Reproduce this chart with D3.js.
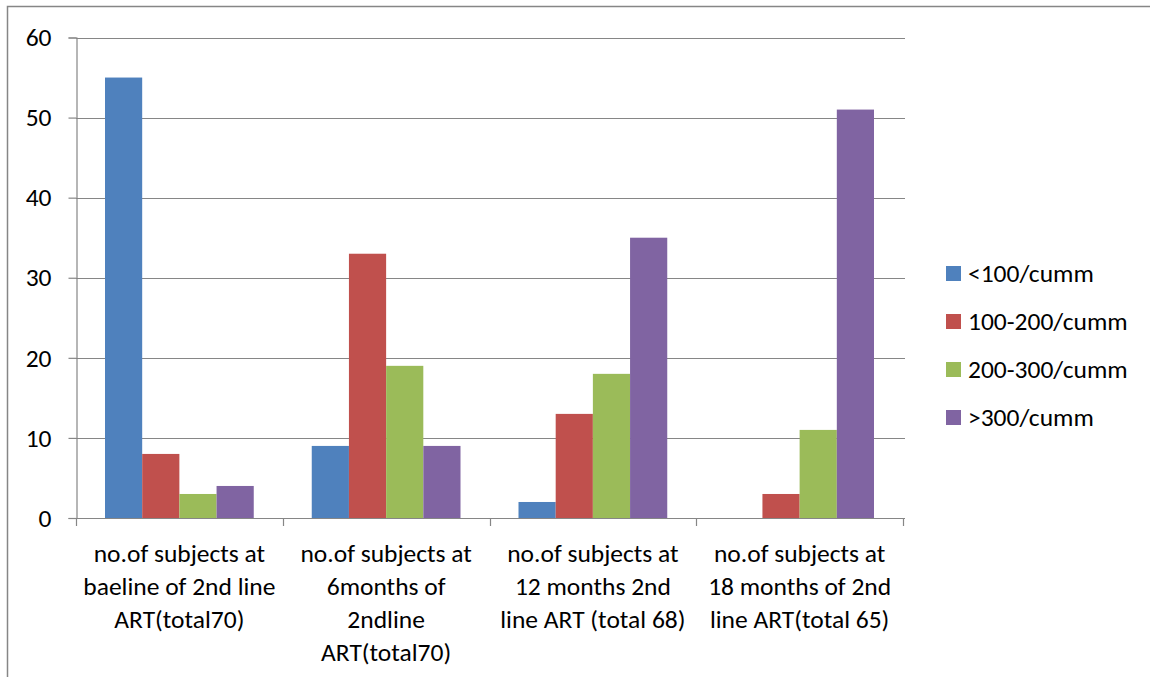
<!DOCTYPE html>
<html>
<head>
<meta charset="utf-8">
<script src="https://cdn.jsdelivr.net/npm/d3@7"></script>
<style>
html,body{margin:0;padding:0;background:#fff;}
svg{display:block;font-family:Carlito, Lato, "Open Sans", sans-serif;}
</style>
</head>
<body>
<svg id="chart" width="1150" height="677"></svg>
<script>
const categories = [
  ["no.of subjects at", "baeline of 2nd line", "ART(total70)"],
  ["no.of subjects at", "6months of", "2ndline", "ART(total70)"],
  ["no.of subjects at", "12 months 2nd", "line ART (total 68)"],
  ["no.of subjects at", "18 months of 2nd", "line ART(total 65)"]
];
const seriesNames = ["<100/cumm", "100-200/cumm", "200-300/cumm", ">300/cumm"];
const seriesColors = ["#4F81BD", "#C0504D", "#9BBB59", "#8064A2"];
const lt100 = [55, 9, 2, 0];
const s100to200 = [8, 33, 13, 3];
const s200to300 = [3, 19, 18, 11];
const gt300 = [4, 9, 35, 51];
const yTicks = [0, 10, 20, 30, 40, 50, 60];

const seriesValues = [lt100, s100to200, s200to300, gt300];

const svg = d3.select("#chart");
const x0 = 76, x1 = 903, yTop = 37.5, yBot = 518;
const FS = 25.5;

// outer border
svg.append("path")
  .attr("d", "M7.5,700 L7.5,6.5 L1160,6.5")
  .attr("fill", "none").attr("stroke", "#868686").attr("stroke-width", 1.5);

const x = d3.scaleBand().domain(d3.range(categories.length)).range([x0, x1]).padding(0);
const gap = 29;
const xs = d3.scaleBand().domain(d3.range(seriesNames.length)).range([gap, x.bandwidth() - gap]).padding(0);
const y = d3.scaleLinear().domain([0, 60]).range([yBot, yTop]);

// gridlines
svg.append("g").selectAll("line").data(yTicks.filter(d => d > 0)).join("line")
  .attr("x1", x0).attr("x2", x1 + 2)
  .attr("y1", d => Math.round(y(d)) + 0.5).attr("y2", d => Math.round(y(d)) + 0.5)
  .attr("stroke", "#868686").attr("stroke-width", 1.2);

// bars
const gBars = svg.append("g");
seriesValues.forEach((vals, si) => {
  gBars.append("g").selectAll("rect").data(vals).join("rect")
    .attr("x", (d, i) => x(i) + xs(si))
    .attr("width", xs.bandwidth())
    .attr("y", d => y(d))
    .attr("height", d => y(0) - y(d))
    .attr("fill", seriesColors[si]);
});

// y axis
const yAxis = d3.axisLeft(y).tickValues(yTicks).tickSize(8).tickPadding(17);
const gy = svg.append("g").attr("transform", `translate(${x0 + 0.5},0)`).call(yAxis);
gy.selectAll("path,line").attr("stroke", "#868686").attr("stroke-width", 1.2);
gy.selectAll("text").attr("font-size", FS).attr("fill", "#000").attr("font-family", "Carlito, Lato, 'Open Sans', sans-serif");

// x axis
const xTickPositions = d3.range(categories.length + 1).map(i => i < categories.length ? x(i) : x1);
const gx = svg.append("g");
gx.append("line").attr("x1", x0).attr("x2", x1 + 2)
  .attr("y1", Math.round(yBot) + 0.5).attr("y2", Math.round(yBot) + 0.5)
  .attr("stroke", "#868686").attr("stroke-width", 1.2);
gx.selectAll("line.tick").data(xTickPositions).join("line").attr("class", "tick")
  .attr("x1", d => Math.round(d) + 0.5).attr("x2", d => Math.round(d) + 0.5)
  .attr("y1", yBot).attr("y2", yBot + 8)
  .attr("stroke", "#868686").attr("stroke-width", 1.2);

// category labels
const lab = svg.append("g");
categories.forEach((lines, i) => {
  const t = lab.append("text").attr("text-anchor", "middle")
    .attr("font-size", FS).attr("fill", "#000");
  lines.forEach((ln, j) => {
    t.append("tspan").attr("x", x(i) + x.bandwidth() / 2).attr("y", 562 + j * 33).text(ln);
  });
});

// legend
const leg = svg.append("g");
seriesNames.forEach((name, i) => {
  const ly = 273 + i * 48;
  leg.append("rect").attr("x", 946).attr("y", ly - 7).attr("width", 15).attr("height", 15).attr("fill", seriesColors[i]);
  leg.append("text").attr("x", 968).attr("y", ly + 9).attr("font-size", FS).attr("fill", "#000").text(name);
});
</script>
</body>
</html>
